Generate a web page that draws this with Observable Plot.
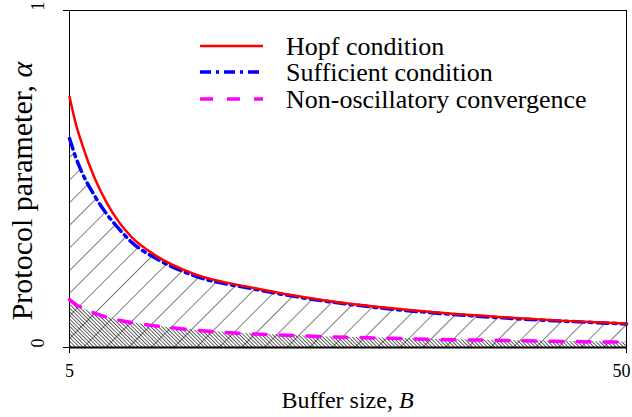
<!DOCTYPE html>
<html><head><meta charset="utf-8">
<script src="https://cdn.jsdelivr.net/npm/d3@7"></script>
<script src="https://cdn.jsdelivr.net/npm/@observablehq/plot@0.6"></script>
<style>
body{margin:0;background:#fff;}
svg, svg text, svg tspan{font-family:"Liberation Serif","Times New Roman",serif !important;}
</style>
</head><body><div id="chart"></div>
<script>
// Buffer size B (x) and protocol parameter alpha (y)
const bufferSize = [5, 5.5, 6, 7, 8, 9, 10, 12, 15, 20, 25, 30, 35, 40, 45, 50];
const hopf       = [0.745, 0.665, 0.605, 0.505, 0.430, 0.372, 0.328, 0.272, 0.219, 0.176, 0.143, 0.120, 0.103, 0.090, 0.079, 0.071];
const sufficient = [0.620, 0.565, 0.520, 0.452, 0.396, 0.352, 0.313, 0.264, 0.214, 0.173, 0.141, 0.118, 0.101, 0.088, 0.078, 0.070];
const nonOsc     = [0.142, 0.128, 0.118, 0.102, 0.090, 0.081, 0.074, 0.064, 0.052, 0.040, 0.033, 0.028, 0.024, 0.021, 0.018, 0.016];
const xTicks = [5, 50];
const yTicks = [0, 1];
const seriesNames = ["Hopf condition", "Sufficient condition", "Non-oscillatory convergence"];

const toRows = vals => bufferSize.map((b, i) => ({B: b, a: vals[i]}));
const hopfRows = toRows(hopf), sufRows = toRows(sufficient), nonRows = toRows(nonOsc);
const curve = "monotone-x";
const serif = "Liberation Serif";

const chart = Plot.plot({
  width: 632, height: 417,
  marginLeft: 69, marginRight: 6, marginTop: 10, marginBottom: 70,
  style: {background: "white", fontFamily: serif},
  x: {domain: [5, 50], axis: null},
  y: {domain: [0, 1], axis: null},
  marks: [
    Plot.areaY(sufRows, {x: "B", y: "a", fill: "url(#hatchA)", curve}),
    Plot.areaY(nonRows, {x: "B", y: "a", fill: "url(#hatchB)", curve}),
    Plot.frame({stroke: "black", strokeWidth: 1}),
    Plot.ruleY([0], {stroke: "black", strokeWidth: 2}),
    Plot.axisX({ticks: xTicks, tickSize: 6, tickFormat: () => "", label: null, stroke: "black"}),
    Plot.axisY({ticks: yTicks, tickSize: 6, tickFormat: () => "", label: null, stroke: "black"}),
    Plot.text(xTicks.slice(0, 1), {x: d => d, frameAnchor: "bottom", dy: 29, fontSize: 18, fontFamily: serif, fill: "black"}),
    Plot.text(xTicks.slice(1), {x: d => d, frameAnchor: "bottom", dy: 29, dx: 4, textAnchor: "end", fontSize: 18, fontFamily: serif, fill: "black"}),
    Plot.text(yTicks, {y: d => d, frameAnchor: "left", dx: -31, rotate: -90, fontSize: 18, fontFamily: serif, fill: "black"}),
    Plot.line(nonRows, {x: "B", y: "a", stroke: "#ff00ff", strokeWidth: 3.5, strokeDasharray: "13,14", curve}),
    Plot.line(sufRows, {x: "B", y: "a", stroke: "#0000ff", strokeWidth: 3.5, strokeDasharray: "11,5,3,5", curve}),
    Plot.line(hopfRows, {x: "B", y: "a", stroke: "#ff0000", strokeWidth: 2.5, curve})
  ]
});

const svg = d3.select(chart);
const defs = svg.insert("defs", ":first-child");
defs.append("pattern").attr("id", "hatchA").attr("patternUnits", "userSpaceOnUse")
  .attr("width", 16).attr("height", 16).attr("patternTransform", "rotate(45)")
  .append("line").attr("x1", 0).attr("y1", 0).attr("x2", 0).attr("y2", 16)
  .attr("stroke", "black").attr("stroke-width", 1);
defs.append("pattern").attr("id", "hatchB").attr("patternUnits", "userSpaceOnUse")
  .attr("width", 2.6).attr("height", 10).attr("patternTransform", "rotate(-45)")
  .append("line").attr("x1", 0).attr("y1", 0).attr("x2", 0).attr("y2", 10)
  .attr("stroke", "black").attr("stroke-width", 1.2);

// legend
const legendStyles = [
  {stroke: "#ff0000", width: 2.5, dash: null},
  {stroke: "#0000ff", width: 3.5, dash: "11,5,3,5"},
  {stroke: "#ff00ff", width: 3.5, dash: "13,14"}
];
const legendY = [46, 72, 99];
const lg = svg.append("g").attr("font-size", 26).attr("fill", "black")
  .attr("text-anchor", "start").attr("font-family", serif);
seriesNames.forEach((name, i) => {
  const s = legendStyles[i];
  const l = lg.append("line").attr("x1", 200).attr("x2", 263).attr("y1", legendY[i]).attr("y2", legendY[i])
    .attr("stroke", s.stroke).attr("stroke-width", s.width);
  if (s.dash) l.attr("stroke-dasharray", s.dash);
  lg.append("text").attr("x", 286).attr("y", legendY[i] + 8.5).attr("text-anchor", "start").text(name);
});

// axis labels
const xl = svg.append("text").attr("x", 347.5).attr("y", 408).attr("text-anchor", "middle")
  .attr("font-size", 24).attr("font-family", serif).attr("fill", "black");
xl.append("tspan").text("Buffer size, ");
xl.append("tspan").attr("font-style", "italic").text("B");
const yl = svg.append("text").attr("transform", "translate(32,191) rotate(-90)").attr("text-anchor", "middle")
  .attr("font-size", 30).attr("font-family", serif).attr("fill", "black");
yl.append("tspan").text("Protocol parameter, ");
yl.append("tspan").attr("font-style", "italic").text("α");

document.getElementById("chart").appendChild(chart);
</script>
</body></html>
